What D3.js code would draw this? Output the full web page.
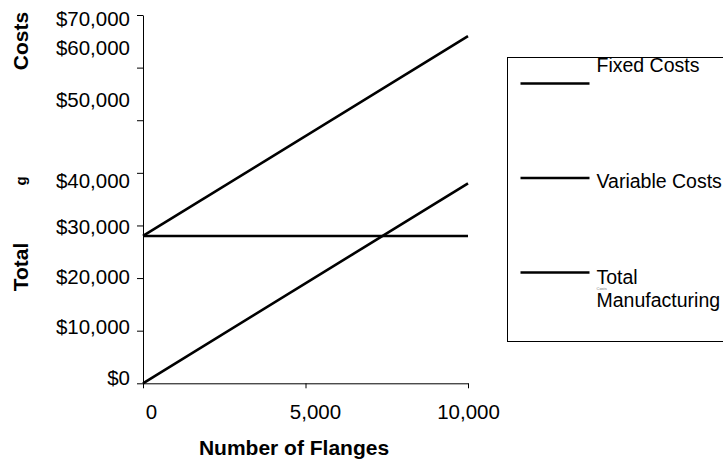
<!DOCTYPE html>
<html>
<head>
<meta charset="utf-8">
<script src="https://cdn.jsdelivr.net/npm/d3@7"></script>
<style>
  body { margin: 0; background: #fff; }
  svg { display: block; font-family: "Liberation Sans", Arial, sans-serif; }
  .axis .domain, .axis line { stroke: #000; stroke-width: 1; }
  .axis text { fill: #000; }
</style>
</head>
<body>
<div id="chart"></div>
<script>
// data
const flanges = [0, 10000];
const fixedCosts = [28000, 28000];
const variableCosts = [0, 38000];
const totalCosts = [28000, 66000];
const seriesNames = ['Fixed Costs', 'Variable Costs', 'Total Manufacturing'];
const yTicks = [0, 10000, 20000, 30000, 40000, 50000, 60000, 70000];
const xTicks = [0, 5000, 10000];

const outerWidth = 723;
const outerHeight = 459;
const margin = { top: 15, left: 143 };
const width = 325;
const height = 368.3;

const svg = d3.select('#chart')
  .append('svg')
  .attr('width', outerWidth)
  .attr('height', outerHeight);

const g = svg.append('g')
  .attr('transform', `translate(${margin.left}, ${margin.top})`);

const x = d3.scaleLinear().domain([0, 10000]).range([0, width]);
const y = d3.scaleLinear().domain([0, 70000]).range([height, 0]);

// Y axis (the source labels sit a bit off their ticks)
const yLabelShift = [-5, -4, -1, 1.5, 8, -20, -20, 4];
const yAxis = g.append('g')
  .attr('class', 'axis')
  .call(d3.axisLeft(y).tickValues(yTicks).tickSize(6).tickSizeOuter(0)
    .tickPadding(7).tickFormat(d3.format('$,')));
yAxis.selectAll('.tick text')
  .attr('font-size', 20.5)
  .attr('font-family', '"Liberation Sans", Arial, sans-serif')
  .attr('transform', (d, i) => `translate(0, ${yLabelShift[i]})`);

// X axis
const xLabelShift = [8, 9.5, 0];
const xAxis = g.append('g')
  .attr('class', 'axis')
  .attr('transform', `translate(0, ${height})`)
  .call(d3.axisBottom(x).tickValues(xTicks).tickSize(5).tickSizeOuter(0)
    .tickPadding(16).tickFormat(d3.format(',')));
xAxis.selectAll('.tick text')
  .attr('font-size', 20.5)
  .attr('font-family', '"Liberation Sans", Arial, sans-serif')
  .attr('transform', (d, i) => `translate(${xLabelShift[i]}, 0)`);

// the lines
const series = [fixedCosts, variableCosts, totalCosts];
const line = d3.line()
  .x((d, i) => x(flanges[i]))
  .y(d => y(d));

g.selectAll('.cost-line')
  .data(series)
  .enter()
  .append('path')
  .attr('class', 'cost-line')
  .attr('fill', 'none')
  .attr('stroke', '#000')
  .attr('stroke-width', 2.6)
  .attr('d', d => line(d));

// axis titles
svg.append('text')
  .attr('x', 294)
  .attr('y', 447)
  .attr('text-anchor', 'middle')
  .attr('dominant-baseline', 'central')
  .attr('font-weight', 'bold')
  .attr('font-size', 21)
  .text('Number of Flanges');

const yTitle = [
  { text: 'Total', cy: 267, size: 21 },
  { text: 'g', cy: 181, size: 15 },
  { text: 'Costs', cy: 41, size: 21 }
];
svg.selectAll('.y-title')
  .data(yTitle)
  .enter()
  .append('text')
  .attr('class', 'y-title')
  .attr('transform', d => `translate(20, ${d.cy}) rotate(-90)`)
  .attr('text-anchor', 'middle')
  .attr('dominant-baseline', 'central')
  .attr('font-weight', 'bold')
  .attr('font-size', d => d.size)
  .text(d => d.text);

// legend box runs off the right edge
const legend = svg.append('g').attr('transform', 'translate(507.5, 57.5)');
legend.append('rect')
  .attr('width', 260)
  .attr('height', 284)
  .attr('fill', 'none')
  .attr('stroke', '#000')
  .attr('stroke-width', 1);

const legendTextShift = [-19, 3, 4];
seriesNames.forEach((name, i) => {
  const ly = 26 + i * 94.5;
  legend.append('line')
    .attr('x1', 13)
    .attr('x2', 82)
    .attr('y1', ly)
    .attr('y2', ly)
    .attr('stroke', '#000')
    .attr('stroke-width', 2.6);

  const words = name === 'Total Manufacturing' ? ['Total', 'Manufacturing'] : [name];
  const t = legend.append('text')
    .attr('x', 89)
    .attr('y', ly + legendTextShift[i])
    .attr('dominant-baseline', 'central')
    .attr('font-size', 19.5);
  words.forEach((w, j) => {
    t.append('tspan')
      .attr('x', 89)
      .attr('dy', j === 0 ? 0 : 23.5)
      .text(w);
  });
});

// tiny stray label from the source
legend.append('text')
  .attr('x', 89)
  .attr('y', 232)
  .attr('font-size', 4)
  .attr('fill', '#777')
  .text('Costs');
</script>
</body>
</html>
